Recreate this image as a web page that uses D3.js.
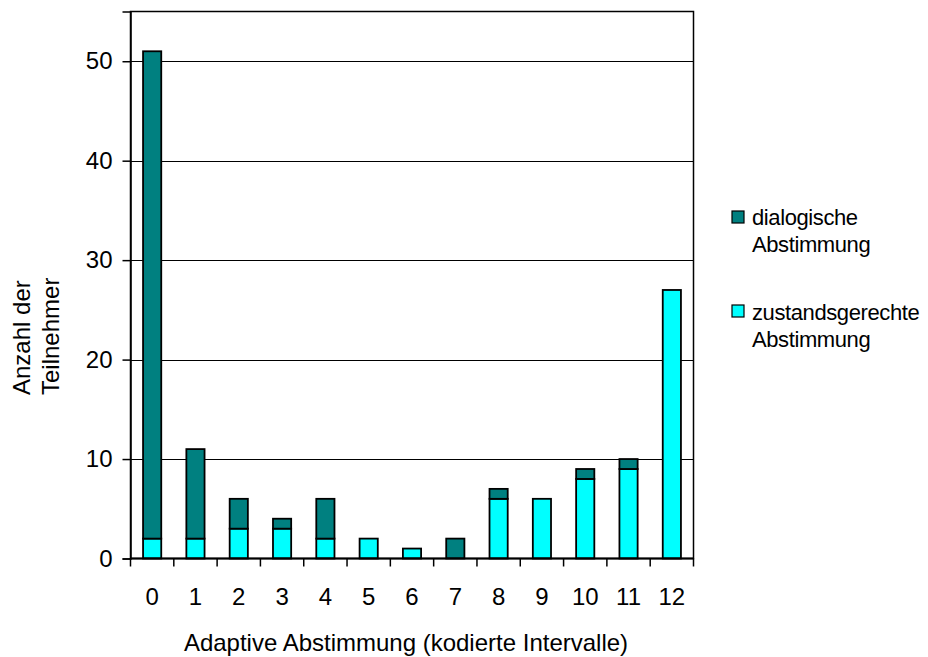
<!DOCTYPE html>
<html>
<head>
<meta charset="utf-8">
<script src="https://cdn.jsdelivr.net/npm/d3@7/dist/d3.min.js"></script>
<style>
  html, body { margin: 0; padding: 0; background: #fff; }
  svg { display: block; font-family: "Liberation Sans", Arial, sans-serif; }
</style>
</head>
<body>
<svg id="chart" width="928" height="657"></svg>
<script>
// Kodierte Intervalle der adaptiven Abstimmung
const categories = ["0","1","2","3","4","5","6","7","8","9","10","11","12"];
// Teilnehmer je Intervall, gestapelt (unten: zustandsgerecht, oben: dialogisch)
const zustandsgerecht = [2, 2, 3, 3, 2, 2, 1, 0, 6, 6, 8, 9, 27];
const dialogisch      = [49, 9, 3, 1, 4, 0, 0, 2, 1, 0, 1, 1, 0];
const yTicks = [0, 10, 20, 30, 40, 50];
const seriesColors = ["#008080", "#00FFFF"];

(function () {
const svg = d3.select("#chart");
const pLeft = 130.5, pRight = 693.5, pTop = 11.5, pBottom = 558.5;
const FONT = "Liberation Sans, Arial, sans-serif";

const x = d3.scaleBand().domain(categories).range([pLeft, pRight]).paddingInner(0).paddingOuter(0);
const y = d3.scaleLinear().domain([0, 55]).range([pBottom, pTop]);

const rows = categories.map((c, i) => ({ cat: c, zustand: zustandsgerecht[i], dialog: dialogisch[i] }));
const stacked = d3.stack().keys(["zustand", "dialog"])(rows);

// Gitternetzlinien
svg.append("g").selectAll("line").data(yTicks.filter(d => d > 0)).join("line")
  .attr("x1", pLeft).attr("x2", pRight)
  .attr("y1", d => Math.round(y(d)) + 0.5).attr("y2", d => Math.round(y(d)) + 0.5)
  .attr("stroke", "#000").attr("stroke-width", 1.2);

// Balken
const barW = x.bandwidth() * 0.42;
const colorFor = { zustand: seriesColors[1], dialog: seriesColors[0] };
stacked.forEach(layer => {
  svg.append("g").selectAll("rect").data(layer.filter(d => d[1] > d[0])).join("rect")
    .attr("x", d => x(d.data.cat) + (x.bandwidth() - barW) / 2)
    .attr("y", d => y(d[1]))
    .attr("width", barW)
    .attr("height", d => y(d[0]) - y(d[1]))
    .attr("fill", colorFor[layer.key])
    .attr("stroke", "#000").attr("stroke-width", 1.8);
});

// Rahmen des Diagrammbereichs
svg.append("rect").attr("x", pLeft).attr("y", pTop)
  .attr("width", pRight - pLeft).attr("height", pBottom - pTop)
  .attr("fill", "none").attr("stroke", "#000").attr("stroke-width", 1.5);

// Y-Achse
const yAxis = d3.axisLeft(y).tickValues(yTicks).tickSize(8).tickPadding(10);
const gy = svg.append("g").attr("transform", `translate(${pLeft},0)`).call(yAxis);
gy.attr("font-family", FONT).attr("font-size", 24);
gy.select(".domain").attr("stroke", "#000").attr("stroke-width", 1.5);
gy.selectAll(".tick line").attr("stroke", "#000").attr("stroke-width", 1.5);
gy.selectAll(".tick text").attr("fill", "#000");

// X-Achse: Teilstriche an den Kategoriegrenzen
const gx = svg.append("g").attr("transform", `translate(0,${pBottom})`);
gx.append("line").attr("x1", pLeft).attr("x2", pRight).attr("y1", 0).attr("y2", 0)
  .attr("stroke", "#000").attr("stroke-width", 2);
const bounds = categories.map(c => x(c)).concat([pRight]);
gx.selectAll("line.tk").data(bounds).join("line").attr("class", "tk")
  .attr("x1", d => d).attr("x2", d => d).attr("y1", 0).attr("y2", 8)
  .attr("stroke", "#000").attr("stroke-width", 1.5);
gx.selectAll("text").data(categories).join("text")
  .attr("x", d => x(d) + x.bandwidth() / 2).attr("y", 46.5)
  .attr("text-anchor", "middle").attr("font-size", 24).attr("fill", "#000")
  .text(d => d);

// Achsentitel
svg.append("text").attr("x", 406).attr("y", 651)
  .attr("text-anchor", "middle").attr("font-size", 24).text("Adaptive Abstimmung (kodierte Intervalle)");
const yt = svg.append("text").attr("transform", "translate(0,395) rotate(-90)")
  .attr("text-anchor", "start").attr("font-size", 24);
yt.append("tspan").attr("x", 0).attr("y", 30).text("Anzahl der");
yt.append("tspan").attr("x", 0).attr("y", 59).text("Teilnehmer");

// Legende
const legend = [
  { lines: ["dialogische", "Abstimmung"], color: seriesColors[0], y: 211, base: 225 },
  { lines: ["zustandsgerechte", "Abstimmung"], color: seriesColors[1], y: 305, base: 320 }
];
const lg = svg.append("g").selectAll("g").data(legend).join("g");
lg.append("rect").attr("x", 732).attr("y", d => d.y).attr("width", 12).attr("height", 12)
  .attr("fill", d => d.color).attr("stroke", "#000").attr("stroke-width", 1.2);
lg.append("text").attr("font-size", 22).attr("letter-spacing", -0.4).attr("fill", "#000")
  .selectAll("tspan").data(d => d.lines.map((l, i) => ({ l, i, base: d.base }))).join("tspan")
  .attr("x", 752).attr("y", t => t.base + t.i * 27).text(t => t.l);
})();
</script>
</body>
</html>
